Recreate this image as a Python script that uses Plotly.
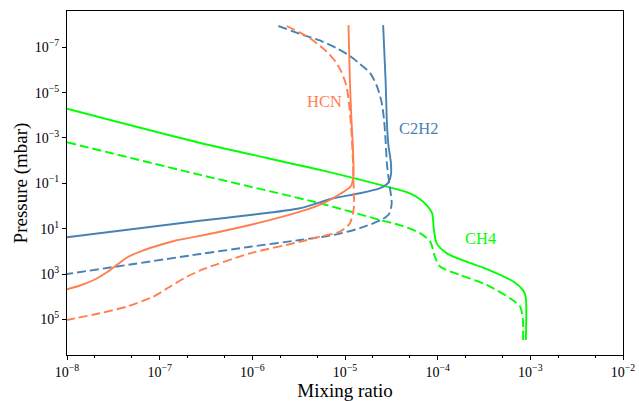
import math
import plotly.graph_objects as go

# ---------------- data ----------------
ch4_solid_x = [1.0e-8, 2.75e-7, 5.37e-6, 2.82e-5, 5.01e-5, 6.46e-5, 7.59e-5, 8.71e-5, 9.12e-5,
               9.77e-5, 1.26e-4, 2.04e-4, 3.39e-4, 6.61e-4, 8.32e-4, 8.91e-4, 8.95e-4]
ch4_solid_p = [5.13e-5, 1.66e-3, 2.57e-2, 0.141, 0.275, 0.501, 0.912, 2.09, 11.5,
               44.7, 123, 288, 603, 2190, 5130, 1.0e4, 8.13e5]

ch4_dash_x = [1.0e-8, 2.75e-7, 5.37e-6, 2.40e-5, 3.89e-5, 6.46e-5, 8.32e-5, 9.33e-5, 1.07e-4,
              1.74e-4, 3.39e-4, 6.03e-4, 7.76e-4, 8.32e-4, 8.35e-4]
ch4_dash_p = [1.55e-3, 4.27e-2, 0.759, 4.17, 6.92, 15.8, 38.0, 174, 479,
              1100, 3020, 1.17e4, 2.75e4, 1.07e5, 8.13e5]

c2h2_solid_x = [2.58e-5, 2.74e-5, 2.84e-5, 2.94e-5, 3.13e-5, 3.13e-5, 2.91e-5, 2.39e-5,
                1.45e-5, 7.48e-6, 3.26e-6, 9.44e-7, 2.72e-7, 1.0e-8]
c2h2_solid_p = [1.05e-8, 2.75e-6, 2.69e-4, 2.04e-3, 1.26e-2, 4.27e-2, 9.77e-2, 0.162,
                0.275, 0.457, 1.26, 2.51, 4.47, 24.0]

c2h2_dash_x = [1.91e-6, 3.55e-6, 5.37e-6, 8.13e-6, 1.13e-5, 1.45e-5, 1.86e-5, 2.21e-5,
               2.48e-5, 2.64e-5, 2.74e-5, 2.84e-5, 3.02e-5, 3.19e-5, 2.99e-5, 2.49e-5,
               1.45e-5, 7.48e-6, 3.26e-6, 9.44e-7, 2.72e-7, 1.0e-8]
c2h2_dash_p = [1.15e-8, 2.88e-8, 5.01e-8, 1.10e-7, 2.40e-7, 5.50e-7, 1.35e-6, 5.13e-6,
               2.57e-5, 1.62e-4, 1.23e-3, 1.55e-2, 0.117, 0.759, 2.24, 3.98,
               9.55, 19.1, 31.6, 63.1, 132, 1000]

hcn_solid_x = [1.09e-5, 1.13e-5, 1.17e-5, 1.22e-5, 1.23e-5, 1.15e-5, 8.83e-6, 5.83e-6,
               3.27e-6, 9.44e-7, 2.72e-7, 1.46e-7, 8.91e-8, 6.14e-8, 4.55e-8, 3.55e-8,
               2.77e-8, 2.00e-8, 1.38e-8, 1.0e-8]
hcn_solid_p = [1.05e-8, 3.31e-6, 1.17e-4, 3.39e-3, 5.13e-2, 0.138, 0.295, 0.759,
               1.78, 6.92, 20.9, 34.0, 61.2, 102, 178, 362,
               776, 1750, 3210, 4730]

hcn_dash_x = [2.35e-6, 4.19e-6, 6.34e-6, 7.80e-6, 9.06e-6, 1.03e-5, 1.10e-5, 1.16e-5,
              1.21e-5, 1.24e-5, 1.25e-5, 1.13e-5, 8.83e-6, 5.37e-6, 3.27e-6, 9.44e-7,
              2.96e-7, 1.96e-7, 1.29e-7, 8.53e-8, 4.41e-8, 2.27e-8, 1.0e-8]
hcn_dash_p = [1.15e-8, 3.98e-8, 1.55e-7, 3.98e-7, 1.12e-6, 4.57e-6, 2.51e-5, 2.69e-4,
              5.62e-3, 0.141, 1.07, 5.75, 13.5, 22.4, 38.0, 123,
              617, 1320, 3630, 1.0e4, 2.75e4, 5.37e4, 1.07e5]

x_tick_vals = [1e-8, 1e-7, 1e-6, 1e-5, 1e-4, 1e-3, 1e-2]
x_tick_text = ["10<sup>\u22128</sup>", "10<sup>\u22127</sup>", "10<sup>\u22126</sup>",
               "10<sup>\u22125</sup>", "10<sup>\u22124</sup>", "10<sup>\u22123</sup>",
               "10<sup>\u22122</sup>"]
y_tick_vals = [1e-7, 1e-5, 1e-3, 1e-1, 1e1, 1e3, 1e5]
y_tick_text = ["10<sup>\u22127</sup>", "10<sup>\u22125</sup>", "10<sup>\u22123</sup>",
               "10<sup>\u22121</sup>", "10<sup>1</sup>", "10<sup>3</sup>", "10<sup>5</sup>"]

labels = ["HCN", "C2H2", "CH4"]
label_x = [10 ** -5.216, 10 ** -4.212, 10 ** -3.54]
label_y = [10 ** -4.59, 10 ** -3.40, 10 ** 1.43]

# ---------------- styling ----------------
C_HCN = "#FF7F50"
C_C2H2 = "#4682B4"
C_CH4 = "#00FF00"
FONT = "Liberation Serif"
DASH = "9px,4px"

fig = go.Figure()

def add(x, p, color, dash):
    fig.add_trace(go.Scatter(
        x=x, y=p, mode="lines",
        line=dict(color=color, width=1.9, dash=dash, shape="spline", smoothing=0.7),
        showlegend=False, hoverinfo="skip"))

add(ch4_solid_x, ch4_solid_p, C_CH4, "solid")
add(ch4_dash_x, ch4_dash_p, C_CH4, DASH)
add(c2h2_solid_x, c2h2_solid_p, C_C2H2, "solid")
add(c2h2_dash_x, c2h2_dash_p, C_C2H2, DASH)
add(hcn_solid_x, hcn_solid_p, C_HCN, "solid")
add(hcn_dash_x, hcn_dash_p, C_HCN, DASH)

for t, lx, ly, c in zip(labels, label_x, label_y, [C_HCN, C_C2H2, C_CH4]):
    fig.add_annotation(x=math.log10(lx), y=math.log10(ly), text=t, showarrow=False,
                       font=dict(family=FONT, size=16.5, color=c),
                       xanchor="center", yanchor="middle")

fig.update_layout(
    width=639, height=401,
    margin=dict(l=67, r=16, t=11, b=46),
    paper_bgcolor="white", plot_bgcolor="white",
    font=dict(family=FONT, size=14, color="black"),
    showlegend=False,
)
fig.update_xaxes(
    type="log", range=[-8, -2], automargin=False,
    tickmode="array", tickvals=x_tick_vals, ticktext=x_tick_text,
    ticks="outside", ticklen=4, tickwidth=1, tickcolor="black",
    minor=dict(ticks="outside", ticklen=2, tickwidth=0.8, tickcolor="black", showgrid=False),
    showline=True, linecolor="black", linewidth=1, mirror=True,
    showgrid=False, zeroline=False,
    tickfont=dict(family=FONT, size=14),
    title=dict(text="Mixing ratio", font=dict(family=FONT, size=19), standoff=3),
)
fig.update_yaxes(
    type="log", range=[6.573, -8.601], automargin=False,
    tickmode="array", tickvals=y_tick_vals, ticktext=y_tick_text,
    ticks="outside", ticklen=4, tickwidth=1, tickcolor="black",
    showline=True, linecolor="black", linewidth=1, mirror=True,
    showgrid=False, zeroline=False,
    tickfont=dict(family=FONT, size=14),
    title=dict(text="Pressure (mbar)", font=dict(family=FONT, size=19), standoff=2),
)

fig.write_html("out.html")
